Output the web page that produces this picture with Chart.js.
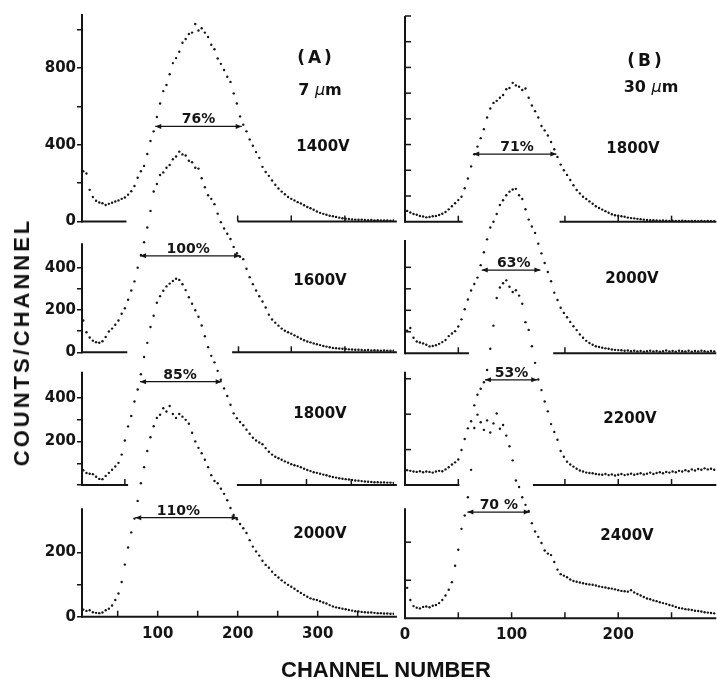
<!DOCTYPE html>
<html>
<head>
<meta charset="utf-8">
<script src="https://cdn.jsdelivr.net/npm/chart.js@4.4.1/dist/chart.umd.min.js"></script>
<style>
    html, body { margin: 0; padding: 0; background: #fff; }
    #fig { position: relative; width: 717px; height: 679px; overflow: hidden; }
    #fig canvas { position: absolute; left: 0; top: 0; }
    .lbl {
        position: absolute;
        transform: translate(-50%, -50%);
        font-family: 'DejaVu Sans', sans-serif;
        font-weight: bold;
        font-size: 15px;
        color: #111;
        white-space: nowrap;
    }
    .lbl i { font-weight: normal; }
    .title {
        position: absolute;
        font-family: 'Liberation Sans', Arial, sans-serif;
        font-weight: bold;
        font-size: 22px;
        color: #111;
        white-space: nowrap;
    }
</style>
</head>
<body>
<div id="fig">
    <canvas id="panel-a1" width="717" height="679"></canvas>
    <canvas id="panel-a2" width="717" height="679"></canvas>
    <canvas id="panel-a3" width="717" height="679"></canvas>
    <canvas id="panel-a4" width="717" height="679"></canvas>
    <canvas id="panel-b1" width="717" height="679"></canvas>
    <canvas id="panel-b2" width="717" height="679"></canvas>
    <canvas id="panel-b3" width="717" height="679"></canvas>
    <canvas id="panel-b4" width="717" height="679"></canvas>

    <div class="lbl" style="left:316px;top:57px;font-size:17px;letter-spacing:3px;">(A)</div>
    <div class="lbl" style="left:320px;top:89px;font-size:16px;">7 <i>μ</i>m</div>
    <div class="lbl" style="left:646px;top:60px;font-size:17px;letter-spacing:3px;">(B)</div>
    <div class="lbl" style="left:651px;top:86px;font-size:16px;">30 <i>μ</i>m</div>

    <div class="lbl" style="left:323px;top:146px;">1400V</div>
    <div class="lbl" style="left:320px;top:280px;">1600V</div>
    <div class="lbl" style="left:320px;top:413px;">1800V</div>
    <div class="lbl" style="left:320px;top:533px;">2000V</div>
    <div class="lbl" style="left:633px;top:148px;">1800V</div>
    <div class="lbl" style="left:632px;top:278px;">2000V</div>
    <div class="lbl" style="left:630px;top:418px;">2200V</div>
    <div class="lbl" style="left:627px;top:535px;">2400V</div>

    <div class="title" style="left:22px;top:342px;transform:translate(-50%,-50%) rotate(-90deg);letter-spacing:3px;">COUNTS/CHANNEL</div>
    <div class="title" style="left:386px;top:670px;transform:translate(-50%,-50%);">CHANNEL NUMBER</div>
</div>
<script>
// column (A), 7 um: channel numbers and counts per channel
const chLeft = [
    7, 11, 15, 19, 23, 27, 31, 35, 39, 43,
    47, 51, 55, 59, 63, 67, 71, 75, 79, 83,
    87, 91, 95, 99, 103, 107, 111, 115, 119, 123,
    127, 131, 135, 139, 143, 147, 151, 155, 159, 163,
    167, 171, 175, 179, 183, 187, 191, 195, 199, 203,
    207, 211, 215, 219, 223, 227, 231, 235, 239, 243,
    247, 251, 255, 259, 263, 267, 271, 275, 279, 283,
    287, 291, 295, 299, 303, 307, 311, 315, 319, 323,
    327, 331, 335, 339, 343, 347, 351, 355, 359, 363,
    367, 371, 375, 379, 383, 387, 391, 395,
];
const countsA1400 = [
    262, 250, 165, 128, 108, 99, 95, 86, 92, 98,
    104, 110, 118, 125, 140, 158, 185, 228, 262, 290,
    352, 420, 470, 545, 615, 680, 712, 768, 826, 852,
    885, 932, 952, 978, 985, 1030, 996, 1008, 985, 962,
    922, 898, 850, 822, 790, 755, 728, 668, 615, 548,
    505, 470, 428, 395, 362, 332, 285, 258, 238, 214,
    192, 172, 156, 142, 128, 118, 110, 101, 94, 85,
    76, 69, 61, 52, 45, 40, 35, 30, 27, 24,
    20, 17, 14, 13, 11, 10, 9, 10, 8, 7,
    8, 6, 7, 5, 6, 5, 4, 5,
];
const countsA1600 = [
    150, 95, 70, 55, 48, 45, 52, 72, 98, 112,
    130, 150, 182, 208, 248, 292, 335, 400, 460, 520,
    590, 668, 760, 795, 838, 850, 872, 885, 912, 925,
    948, 935, 930, 905, 898, 872, 868, 822, 780, 742,
    725, 700, 655, 615, 585, 560, 535, 498, 468, 452,
    440, 395, 355, 322, 292, 265, 240, 212, 178, 155,
    140, 126, 112, 102, 95, 88, 80, 72, 64, 57,
    51, 47, 42, 38, 34, 30, 27, 24, 20, 19,
    18, 17, 16, 14, 13, 12, 12, 11, 10, 11,
    9, 10, 9, 8, 9, 8, 7, 8,
];
const countsA1800 = [
    68, 55, 52, 50, 38, 28, 27, 42, 56, 70,
    85, 102, 140, 205, 270, 318, 385, 440, 510, 590,
    655, 728, 780, 840, 870, 895, 915, 928, 940, 950,
    945, 925, 898, 865, 835, 805, 775, 735, 685, 635,
    595, 565, 526, 485, 445, 410, 370, 330, 308, 290,
    275, 255, 236, 218, 205, 196, 188, 170, 153, 140,
    130, 123, 116, 109, 103, 96, 91, 87, 82, 75,
    69, 64, 59, 56, 52, 48, 45, 40, 37, 34,
    31, 29, 27, 25, 23, 21, 20, 18, 16, 15,
    14, 13, 13, 12, 12, 11, 11, 10,
];
const countsA2000 = [
    22, 18, 20, 14, 12, 11, 13, 20, 25, 35,
    52, 72, 108, 162, 215, 262, 305, 360, 415, 465,
    515, 558, 592, 618, 628, 648, 638, 655, 630, 618,
    630, 622, 612, 600, 572, 545, 525, 508, 488, 465,
    440, 422, 415, 398, 382, 362, 338, 316, 303, 288,
    275, 260, 238, 218, 203, 190, 174, 161, 152, 140,
    130, 122, 113, 106, 99, 93, 87, 80, 74, 68,
    62, 57, 54, 52, 48, 44, 41, 36, 32, 29,
    27, 25, 23, 21, 19, 17, 16, 15, 14, 13,
    13, 12, 11, 11, 10, 10, 9, 9,
];

// column (B), 30 um
const chRight = [
    2, 5, 8, 11, 14, 17, 20, 23, 26, 29,
    32, 35, 38, 41, 44, 47, 50, 53, 56, 59,
    62, 65, 68, 71, 74, 77, 80, 83, 86, 89,
    92, 95, 98, 101, 104, 107, 110, 113, 116, 119,
    122, 125, 128, 131, 134, 137, 140, 143, 146, 149,
    152, 155, 158, 161, 164, 167, 170, 173, 176, 179,
    182, 185, 188, 191, 194, 197, 200, 203, 206, 209,
    212, 215, 218, 221, 224, 227, 230, 233, 236, 239,
    242, 245, 248, 251, 254, 257, 260, 263, 266, 269,
    272, 275, 278, 281, 284, 287, 290,
];
const countsB1800 = [
    42, 36, 30, 27, 22, 20, 17, 18, 21, 22,
    26, 31, 38, 48, 60, 72, 84, 97, 130, 168,
    215, 262, 292, 325, 360, 405, 440, 462, 470, 482,
    493, 515, 520, 540, 530, 525, 512, 518, 482, 452,
    430, 405, 372, 355, 335, 310, 282, 252, 222, 200,
    182, 162, 142, 123, 110, 97, 88, 79, 70, 60,
    53, 47, 41, 35, 29, 25, 23, 21, 19, 16,
    14, 13, 11, 10, 8, 7, 6, 6, 5, 4,
    5, 4, 3, 4, 3, 3, 4, 3, 2, 3,
    3, 2, 3, 2, 3, 2, 2,
];
const countsB2000 = [
    105, 118, 72, 55, 50, 46, 40, 32, 34, 38,
    44, 52, 62, 80, 92, 103, 125, 158, 205, 250,
    292, 322, 352, 410, 470, 530, 585, 612, 648, 690,
    712, 735, 752, 762, 765, 735, 718, 670, 622, 590,
    560, 510, 465, 420, 378, 335, 282, 248, 212, 188,
    168, 146, 126, 108, 88, 72, 58, 48, 40, 33,
    29, 26, 23, 21, 18, 16, 15, 14, 12, 13,
    10, 12, 9, 11, 8, 10, 12, 9, 11, 8,
    10, 13, 9, 11, 8, 12, 10, 9, 12, 8,
    11, 9, 12, 10, 8, 11, 9,
];
const countsB2200 = [
    42, 40, 38, 37, 39, 36, 38, 37, 35, 38,
    40, 39, 44, 50, 58, 64, 72, 99, 130, 160,
    180, 225, 255, 272, 290, 325, 385, 450, 528, 558,
    570, 578, 560, 545, 550, 535, 512, 460, 438, 392,
    345, 298, 268, 236, 208, 172, 150, 128, 96, 80,
    66, 58, 52, 46, 41, 38, 35, 34, 33, 31,
    30, 29, 31, 28, 30, 27, 29, 31, 28, 30,
    32, 29, 31, 33, 30, 32, 35, 31, 34, 36,
    33, 37, 35, 38, 36, 40, 38, 42, 39, 44,
    41, 45, 43, 47, 44, 46, 43,
];
const countsB2400 = [
    80, 48, 32, 28, 26, 30, 31, 29, 33, 35,
    40, 48, 60, 75, 95, 138, 180, 235, 270, 318,
    390, 500, 535, 515, 495, 520, 488, 512, 538, 498,
    508, 480, 452, 415, 362, 345, 318, 298, 282, 250,
    228, 214, 198, 178, 170, 166, 148, 128, 116, 112,
    108, 102, 98, 96, 94, 92, 90, 89, 88, 86,
    84, 82, 81, 79, 78, 76, 74, 72, 71, 70,
    74, 68, 64, 60, 56, 52, 50, 47, 45, 42,
    40, 38, 35, 33, 30, 27, 26, 24, 23, 22,
    20, 19, 18, 16, 15, 14, 13,
];

// FWHM arrows: [from channel, to channel, counts]
const fwhmA = [[97, 205, 496], [78, 203, 456], [78, 180, 476], [72, 200, 308]];
const fwhmALabels = ['76%', '100%', '85%', '110%'];
const fwhmALabelX = [151, 138, 128, 126];
const fwhmB = [[64, 142, 263], [72, 127, 387], [75, 124, 297], [58.5, 117, 279]];
const fwhmBLabels = ['71%', '63%', '53%', '70 %'];
const fwhmBLabelX = [105, 102, 100, 88];

const xLabelsA = [100, 200, 300];
const xLabelsB = [0, 100, 200];

const ink = '#151515';
const tickFont = { family: "'DejaVu Sans'", size: 15, weight: 'bold' };

const arrowHead = (ctx, x, y, dir) => {
    ctx.beginPath();
    ctx.moveTo(x, y);
    ctx.lineTo(x + dir * 6, y - 2.5);
    ctx.lineTo(x + dir * 6, y + 2.5);
    ctx.closePath();
    ctx.fill();
};

// axis lines (broken baselines), inward ticks and arrow heads
const decorPlugin = {
    id: 'decor',
    afterDatasetsDraw(chart, args, opts) {
        const { ctx } = chart;
        const xs = chart.scales.x;
        const ys = chart.scales.y;
        const base = ys.getPixelForValue(0);
        ctx.save();
        ctx.strokeStyle = ink;
        ctx.fillStyle = ink;
        ctx.lineWidth = 2;
        ctx.beginPath();
        ctx.moveTo(xs.left, base + 1);
        ctx.lineTo(xs.left, ys.getPixelForValue(opts.axisTop));
        ctx.stroke();
        (opts.segments || []).forEach(([a, b]) => {
            ctx.beginPath();
            ctx.moveTo(xs.getPixelForValue(a), base);
            ctx.lineTo(xs.getPixelForValue(b), base);
            ctx.stroke();
        });
        ctx.lineWidth = 1.5;
        (opts.xTicks || []).forEach((v) => {
            const x = xs.getPixelForValue(v);
            ctx.beginPath();
            ctx.moveTo(x, base);
            ctx.lineTo(x, base - 6);
            ctx.stroke();
        });
        (opts.yTicks || []).forEach((v) => {
            const y = ys.getPixelForValue(v);
            ctx.beginPath();
            ctx.moveTo(xs.left, y);
            ctx.lineTo(xs.left + 6, y);
            ctx.stroke();
        });
        if (opts.arrow) {
            const [a, b, v] = opts.arrow;
            const y = ys.getPixelForValue(v);
            arrowHead(ctx, xs.getPixelForValue(a), y, 1);
            arrowHead(ctx, xs.getPixelForValue(b), y, -1);
            ctx.font = "bold 14px 'DejaVu Sans'";
            ctx.textAlign = 'center';
            ctx.textBaseline = 'alphabetic';
            ctx.fillText(opts.label, xs.getPixelForValue(opts.labelX), y - 3);
        }
        ctx.restore();
    },
};
Chart.register(decorPlugin);

const makePanel = (id, p) => {
    const left = p.col === 'A';
    const xMin = left ? 5.4 : 0;
    const xMax = left ? 395.4 : 291.7;
    const areaLeft = left ? 82 : 405;
    const areaRight = left ? 394 : 716;
    const yWidth = left ? 60 : 0;
    const xHeight = p.xLabels ? 30 : 0;
    // chart area runs to the top of the page so that tall peaks can rise into the panel above
    const pxPerCount = (p.bottom - p.top) / p.yTop;
    const yMax = p.bottom / pxPerCount;
    const points = p.ch.map((c, i) => ({ x: c, y: p.counts[i] }));
    const [a, b, v] = p.arrow;

    new Chart(document.getElementById(id), {
        type: 'scatter',
        data: {
            datasets: [
                {
                    data: points,
                    pointRadius: 1.2,
                    pointBackgroundColor: ink,
                    pointBorderWidth: 0,
                },
                {
                    data: [{ x: a, y: v }, { x: b, y: v }],
                    showLine: true,
                    borderColor: ink,
                    borderWidth: 1.3,
                    pointRadius: 0,
                },
            ],
        },
        options: {
            responsive: false,
            animation: false,
            events: [],
            layout: {
                autoPadding: false,
                padding: {
                    left: areaLeft - yWidth,
                    right: 717 - areaRight,
                    top: 0,
                    bottom: 679 - p.bottom - xHeight,
                },
            },
            plugins: {
                legend: { display: false },
                tooltip: { enabled: false },
                decor: {
                    axisTop: p.yTop,
                    segments: p.segments,
                    xTicks: p.xTicks,
                    yTicks: left ? [] : p.yTicks,
                    arrow: p.arrow,
                    label: p.label,
                    labelX: p.labelX,
                },
            },
            scales: {
                x: {
                    type: 'linear',
                    min: xMin,
                    max: xMax,
                    display: !!p.xLabels,
                    grid: { display: false, drawTicks: false },
                    border: { display: false },
                    ticks: { font: tickFont, color: ink, padding: 8, maxRotation: 0 },
                    afterBuildTicks: (s) => {
                        s.ticks = (p.xLabels || []).map((t) => ({ value: t }));
                    },
                    afterFit: (s) => {
                        s.height = xHeight;
                        s.paddingLeft = 0;
                        s.paddingRight = 0;
                    },
                },
                y: {
                    type: 'linear',
                    min: 0,
                    max: yMax,
                    position: 'left',
                    border: { display: false },
                    grid: left
                        ? { display: true, drawOnChartArea: false, drawTicks: true, tickLength: 5, color: ink, lineWidth: 1.5 }
                        : { display: false },
                    ticks: left
                        ? {
                            font: tickFont,
                            color: ink,
                            padding: 1,
                            callback: (val) => (p.yLabels.includes(val) ? String(val) : ''),
                        }
                        : { display: false },
                    afterBuildTicks: (s) => {
                        s.ticks = (left ? p.yTicks : []).map((t) => ({ value: t }));
                    },
                    afterFit: (s) => {
                        s.width = yWidth;
                        s.paddingTop = 0;
                        s.paddingBottom = 0;
                    },
                },
            },
        },
    });
};

makePanel('panel-a1', {
    col: 'A', ch: chLeft, counts: countsA1400, top: 14, bottom: 221.5, yTop: 1082,
    yTicks: [0, 200, 400, 600, 800, 1000], yLabels: [0, 400, 800],
    segments: [[5.4, 61], [200, 399]], xTicks: [200, 267, 334],
    arrow: fwhmA[0], label: fwhmALabels[0], labelX: fwhmALabelX[0],
});
makePanel('panel-a2', {
    col: 'A', ch: chLeft, counts: countsA1600, top: 243.3, bottom: 352.3, yTop: 515,
    yTicks: [0, 100, 200, 300, 400], yLabels: [0, 200, 400],
    segments: [[5.4, 62], [193, 399]], xTicks: [201, 267, 334],
    arrow: fwhmA[1], label: fwhmALabels[1], labelX: fwhmALabelX[1],
});
makePanel('panel-a3', {
    col: 'A', ch: chLeft, counts: countsA1800, top: 371.7, bottom: 485, yTop: 522,
    yTicks: [0, 100, 200, 300, 400], yLabels: [200, 400],
    segments: [[5.4, 63], [199, 399]], xTicks: [59, 229, 286, 342],
    arrow: fwhmA[2], label: fwhmALabels[2], labelX: fwhmALabelX[2],
});
makePanel('panel-a4', {
    col: 'A', ch: chLeft, counts: countsA2000, top: 508.3, bottom: 616.7, yTop: 337,
    yTicks: [0, 100, 200], yLabels: [0, 200],
    segments: [[5.4, 399]], xTicks: [50, 100, 150, 200, 250, 300, 350],
    arrow: fwhmA[3], label: fwhmALabels[3], labelX: fwhmALabelX[3],
    xLabels: xLabelsA,
});
makePanel('panel-b1', {
    col: 'B', ch: chRight, counts: countsB1800, top: 16, bottom: 221.7, yTop: 800,
    yTicks: [100, 200, 300, 400, 500, 600, 700, 800],
    segments: [[0, 54], [145, 292]], xTicks: [50, 150, 200, 250],
    arrow: fwhmB[0], label: fwhmBLabels[0], labelX: fwhmBLabelX[0],
});
makePanel('panel-b2', {
    col: 'B', ch: chRight, counts: countsB2000, top: 240, bottom: 353.3, yTop: 527,
    yTicks: [100, 200, 300, 400],
    segments: [[0, 60], [139, 292]], xTicks: [50, 150],
    arrow: fwhmB[1], label: fwhmBLabels[1], labelX: fwhmBLabelX[1],
});
makePanel('panel-b3', {
    col: 'B', ch: chRight, counts: countsB2200, top: 371.7, bottom: 485, yTop: 320,
    yTicks: [100, 200, 300],
    segments: [[0, 51], [120, 292]], xTicks: [50, 150, 200, 250],
    arrow: fwhmB[2], label: fwhmBLabels[2], labelX: fwhmBLabelX[2],
});
makePanel('panel-b4', {
    col: 'B', ch: chRight, counts: countsB2400, top: 508.3, bottom: 618.3, yTop: 289,
    yTicks: [100, 200],
    segments: [[0, 292]], xTicks: [50, 100, 150, 200, 250],
    arrow: fwhmB[3], label: fwhmBLabels[3], labelX: fwhmBLabelX[3],
    xLabels: xLabelsB,
});
</script>
</body>
</html>
